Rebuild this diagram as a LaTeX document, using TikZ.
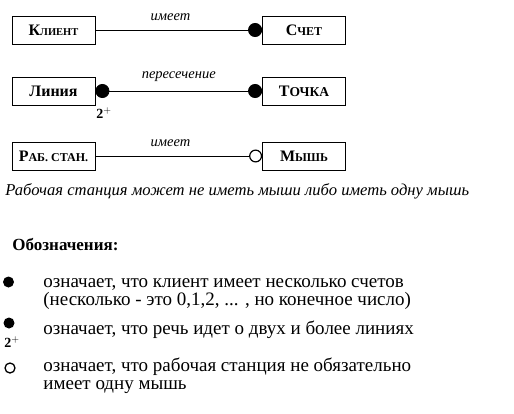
\documentclass[tikz,border=0pt]{standalone}
\usepackage{fontspec}
\setmainfont{Liberation Serif}
\usetikzlibrary{arrows.meta}

% fake small capitals: first letter big, the rest smaller
\newcommand{\fakesc}[3][12]{#2{\fontsize{#1}{#1}\selectfont #3}}

\tikzset{
    entity/.style={draw, line width=0.8pt, minimum width=83pt, minimum height=28pt,
        inner sep=0pt, font=\fontsize{16}{16}\selectfont\bfseries},
    rolelabel/.style={font=\fontsize{14.5}{14.5}\selectfont\itshape, inner sep=0pt},
    many/.style={-{Circle[length=14pt]}},
    legendtext/.style={anchor=base west, inner sep=0pt, align=left,
        font=\fontsize{19}{18}\selectfont},
    fulldot/.style={circle, fill, minimum size=11pt, inner sep=0pt},
    opendot/.style={circle, draw, line width=1.3pt, minimum size=10pt, inner sep=0pt},
    plusmark/.style={font=\fontsize{14}{14}\selectfont\bfseries, inner sep=0pt},
}

\begin{document}
\begin{tikzpicture}[x=1pt, y=-1pt, line width=0.8pt]
    \useasboundingbox (0,0) rectangle (514,413);

    % client -- account
    \node[entity] (klient) at (53.5,30) {\fakesc[10.5]{К}{ЛИЕНТ}};
    \node[entity] (schet) at (304,30) {\fakesc{С}{ЧЕТ}};
    \draw[many] (klient) -- node[rolelabel, above=9pt, pos=0.45] {имеет} (schet);

    % line -- point
    \node[entity] (liniya) at (53.5,91) {Линия};
    \node[entity] (tochka) at (304,91) {\fakesc[13.5]{Т}{ОЧКА}};
    \draw[{Circle[length=14pt]}-{Circle[length=14pt]}] (liniya) -- node[rolelabel, above=9pt] {пересечение} (tochka);
    \node[plusmark] (dva) at (104,113) {2$^{+}$};

    % workstation -- mouse
    \node[entity] (stanciya) at (53.5,156) {\fakesc{Р}{АБ. СТАН.}};
    \node[entity] (mysh) at (304,156) {\fakesc{М}{ЫШЬ}};
    \draw[-{Circle[open, length=13pt, line width=1.2pt]}] (stanciya) -- node[rolelabel, above=9pt, pos=0.45] {имеет} (mysh);
    \node[anchor=base west, inner sep=0pt, font=\fontsize{16.6}{16.6}\selectfont\itshape] (primer) at (5,195)
        {Рабочая станция может не иметь мыши либо иметь одну мышь};

    % legend
    \node[anchor=west, inner sep=0pt, font=\fontsize{17}{17}\selectfont\bfseries] (oboz) at (12,245) {Обозначения:};
    \node[fulldot] (dotA) at (8.5,282) {};
    \node[legendtext] (textA) at (43,305) {означает, что клиент имеет несколько счетов\\(несколько - это 0,1,2, ... , но конечное число)};
    \node[fulldot] (dotB) at (9,323) {};
    \node[plusmark] (dvaB) at (12,342) {2$^{+}$};
    \node[legendtext] (textB) at (43,334) {означает, что речь идет о двух и более линиях};
    \node[opendot] (dotC) at (10,368) {};
    \node[legendtext] (textC) at (43,389) {означает, что рабочая станция не обязательно\\имеет одну мышь};
\end{tikzpicture}
\end{document}
